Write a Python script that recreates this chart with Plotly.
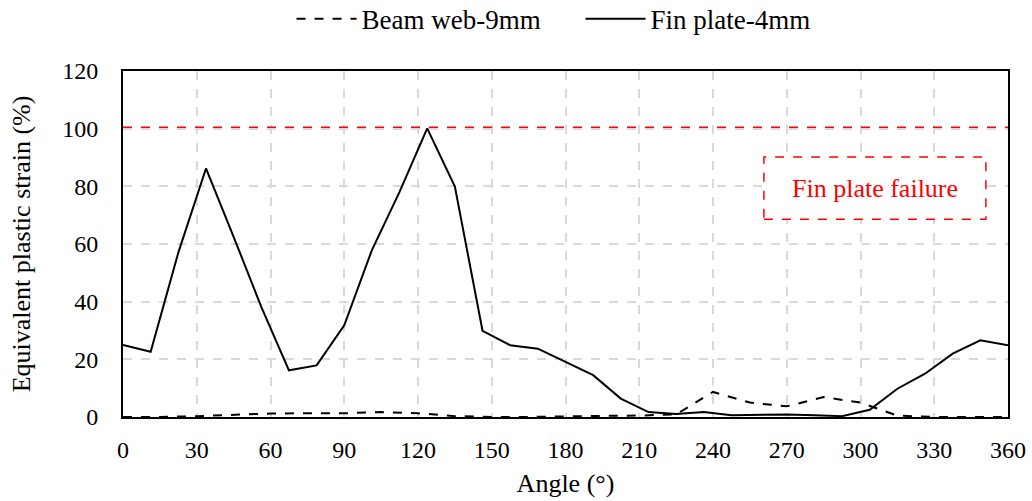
import plotly.graph_objects as go

fin_angle = [0, 11.25, 22.5, 33.75, 45, 56.25, 67.5, 78.75, 90, 101.25, 112.5, 123.75,
             135, 146.25, 157.5, 168.75, 180, 191.25, 202.5, 213.75, 225, 236.25, 247.5,
             258.75, 270, 281.25, 292.5, 303.75, 315, 326.25, 337.5, 348.75, 360]
fin_strain = [25.0, 22.6, 57.0, 86.2, 62.5, 38.2, 16.2, 17.9, 31.8, 57.9, 78.1, 100.1,
              79.9, 29.9, 24.9, 23.7, 19.1, 14.5, 6.4, 1.7, 1.0, 1.7, 0.6,
              0.8, 0.9, 0.6, 0.3, 2.5, 9.8, 15.0, 22.0, 26.6, 24.9]

web_angle = [0, 15, 30, 45, 60, 75, 90, 105, 120, 135, 150, 165, 180, 195, 210, 225,
             240, 255, 270, 285, 300, 315, 330, 345, 360]
web_strain = [0, 0, 0.3, 0.7, 1.2, 1.3, 1.3, 1.7, 1.3, 0.3, 0, 0, 0.3, 0.4, 0.5, 0.9,
              8.7, 5.0, 3.7, 6.9, 5.0, 0.5, 0, 0, 0]

failure_level = 100.5
failure_text = "Fin plate failure"

x_ticks = list(range(0, 361, 30))
y_ticks = list(range(0, 121, 20))

font = "Liberation Serif, Times New Roman, serif"

fig = go.Figure()
fig.add_trace(go.Scatter(x=web_angle, y=web_strain, mode="lines", name="Beam web-9mm",
                         line=dict(color="black", width=2, dash="dash")))
fig.add_trace(go.Scatter(x=fin_angle, y=fin_strain, mode="lines", name="Fin plate-4mm",
                         line=dict(color="black", width=2)))
fig.add_trace(go.Scatter(x=[0, 360], y=[failure_level, failure_level], mode="lines",
                         showlegend=False, hoverinfo="skip",
                         line=dict(color="red", width=1.5, dash="dash")))

fig.add_shape(type="rect", xref="x", yref="y", x0=260.7, x1=351, y0=68.6, y1=90.2,
              line=dict(color="red", width=1.5, dash="dash"), fillcolor="white", layer="above")
fig.add_annotation(x=305.8, y=79.4, xref="x", yref="y", text=failure_text, showarrow=False,
                   font=dict(family=font, size=26, color="red"))

fig.update_layout(
    width=1032, height=501,
    margin=dict(l=123, r=24, t=71, b=84, autoexpand=False),
    paper_bgcolor="white", plot_bgcolor="white",
    font=dict(family=font, size=24, color="black"),
    showlegend=True,
    legend=dict(orientation="h", x=0.517, xanchor="center", y=1.15, yanchor="middle",
                font=dict(family=font, size=27), bgcolor="rgba(0,0,0,0)", itemwidth=60,
                entrywidth=214, entrywidthmode="pixels"),
)
fig.update_xaxes(range=[0, 360], tickvals=x_ticks, ticks="", showline=True, linecolor="black",
                 linewidth=2, mirror=True, showgrid=True, gridcolor="#d9d9d9", griddash="dash",
                 gridwidth=1.5, zeroline=False, ticklabelstandoff=10,
                 title=dict(text="Angle (°)", font=dict(family=font, size=26), standoff=12),
                 tickfont=dict(family=font, size=24))
fig.update_yaxes(range=[0, 120], tickvals=y_ticks, ticks="", showline=True, linecolor="black",
                 linewidth=2, mirror=True, showgrid=True, gridcolor="#d9d9d9", griddash="dash",
                 gridwidth=1.5, zeroline=False, ticklabelstandoff=18,
                 title=dict(text="Equivalent plastic strain (%)", font=dict(family=font, size=26),
                            standoff=24),
                 tickfont=dict(family=font, size=24))

fig.write_html("out.html")
